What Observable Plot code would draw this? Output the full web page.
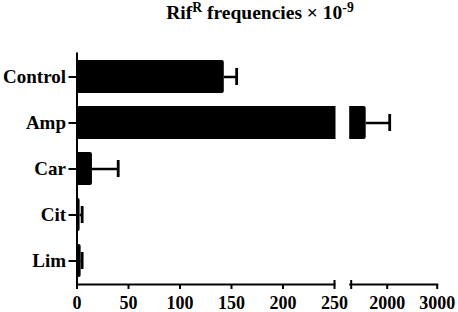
<!DOCTYPE html>
<html>
<head>
<meta charset="utf-8">
<script src="https://cdn.jsdelivr.net/npm/d3@7"></script>
<script src="https://cdn.jsdelivr.net/npm/@observablehq/plot@0.6"></script>
<style>
  body { margin: 0; background: #fff; }
  #title { width: 458px; height: 30px; box-sizing: border-box; padding-left: 62px; text-align: center;
           font-family: "Liberation Serif", "Times New Roman", serif;
           font-weight: bold; font-size: 19.5px; line-height: 26px; color: #000; }
  #title sup { font-size: 0.7em; vertical-align: baseline; position: relative; top: -0.5em; }
</style>
</head>
<body>
<div id="title">Rif<sup>R</sup> frequencies × 10<sup>-9</sup></div>
<div id="chart"></div>
<script>
const categories = ["Control", "Amp", "Car", "Cit", "Lim"];
const means = [143, 1580, 15, 3, 4];
const errors = [12, 470, 25, 2, 1];
const axisBreak = [250, 1280];
const labeledTicks = [0, 50, 100, 150, 200, 250, 2000, 3000];
const xMax = 3000;

const data = categories.map((c, i) => ({category: c, mean: means[i], hi: means[i] + errors[i]}));

const font = '"Liberation Serif", "Times New Roman", serif';

const chart = Plot.plot({
  width: 458,
  height: 282,
  marginLeft: 76.5,
  marginRight: 21.3,
  marginTop: 23,
  marginBottom: 28,
  style: {fontFamily: font, fontWeight: "bold", fontSize: "18px", color: "#000", background: "#fff", overflow: "visible"},
  x: {type: "linear", domain: [0, axisBreak[0], axisBreak[1], xMax], range: [76.5, 334, 350.7, 436.7]},
  y: {type: "band", domain: categories, paddingInner: 0.29, paddingOuter: 0.145},
  marks: [
    Plot.barX(data, {x: "mean", y: "category", fill: "#000", rx: 2}),
    Plot.ruleY(data, {x1: "mean", x2: "hi", y: "category", stroke: "#000", strokeWidth: 2.5}),
    Plot.tickX(data, {x: "hi", y: "category", stroke: "#000", strokeWidth: 2.8, insetTop: 8, insetBottom: 8}),
    Plot.frame({anchor: "left", stroke: "#000", strokeWidth: 2}),
    Plot.frame({anchor: "bottom", stroke: "#000", strokeWidth: 2}),
    Plot.rectX([axisBreak], {x1: d => d[0], x2: d => d[1], fill: "#fff", insetLeft: 1.5, insetRight: 1.5, insetBottom: -3, insetTop: -2}),
    Plot.axisX(labeledTicks, {anchor: "bottom", tickSize: 5, tickPadding: 7, strokeWidth: 2, fontSize: 18, fontWeight: "bold", fontFamily: font, label: null, tickFormat: d => String(d)}),
    Plot.axisX([axisBreak[1]], {anchor: "bottom", tickSize: 5, strokeWidth: 2, tickFormat: () => "", label: null}),
    Plot.axisX(axisBreak, {anchor: "bottom", tickSize: -4, strokeWidth: 2, tickFormat: () => "", label: null}),
    Plot.axisY({anchor: "left", tickSize: 8, tickPadding: 3, strokeWidth: 2, fontSize: 19, fontWeight: "bold", fontFamily: font, label: null})
  ]
});
document.getElementById("chart").appendChild(chart);
</script>
</body>
</html>
